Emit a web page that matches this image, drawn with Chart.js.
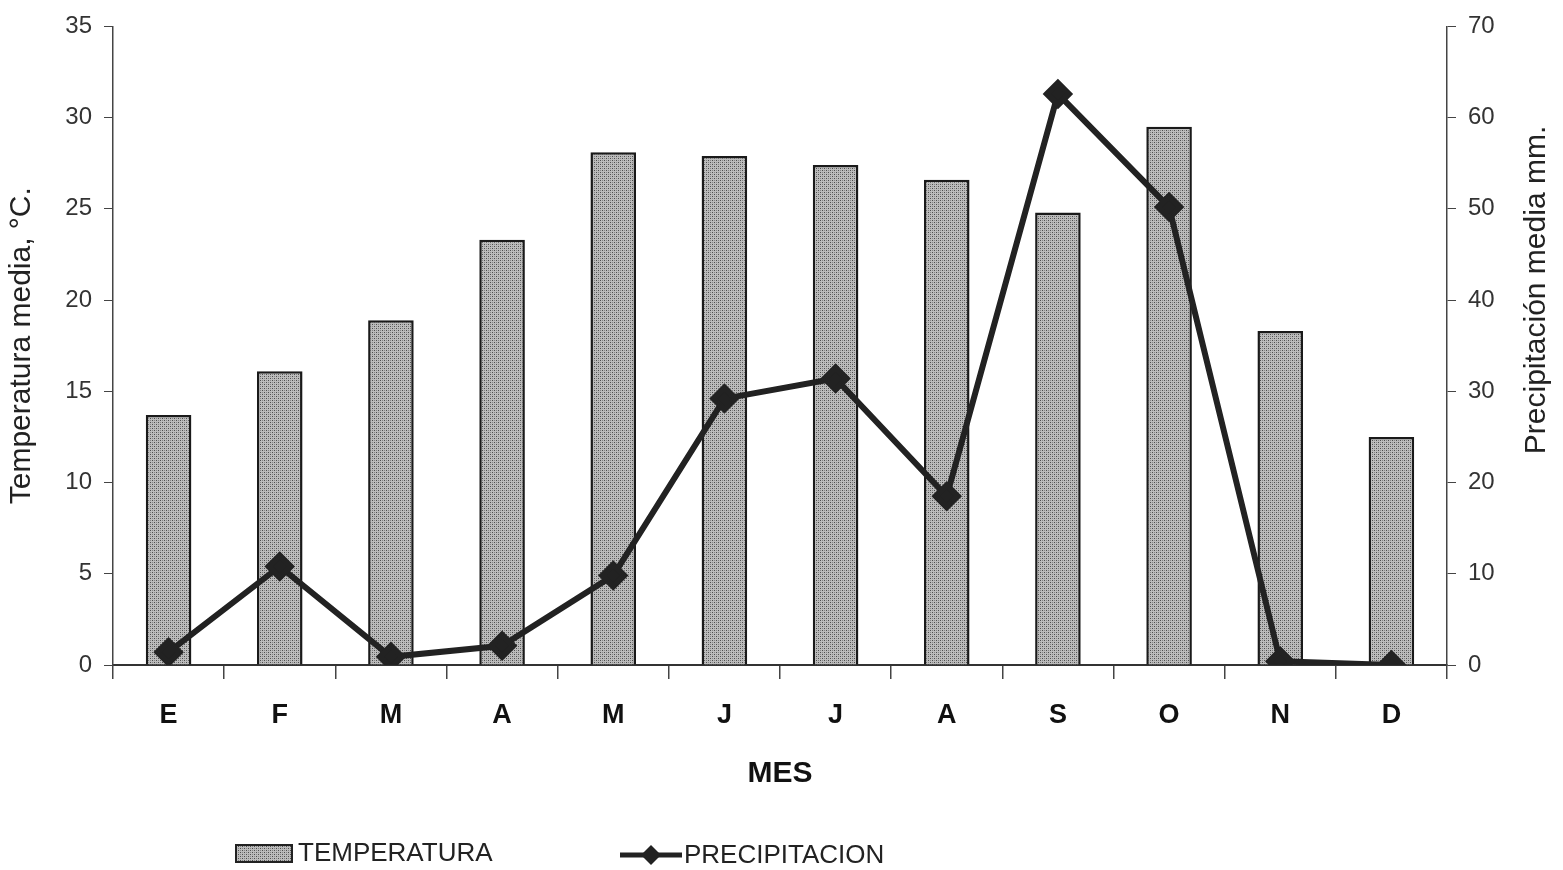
<!DOCTYPE html>
<html>
<head>
<meta charset="utf-8">
<script src="https://cdn.jsdelivr.net/npm/chart.js@4"></script>
<style>
  html, body { margin: 0; padding: 0; background: #fff; }
  #wrap { width: 1563px; height: 870px; }
</style>
</head>
<body>
<div id="wrap"><canvas id="myChart" width="1563" height="870"></canvas></div>
<script>
const months = ['E', 'F', 'M', 'A', 'M', 'J', 'J', 'A', 'S', 'O', 'N', 'D'];
const temperatura = [13.7, 16.1, 18.9, 23.3, 28.1, 27.9, 27.4, 26.6, 24.8, 29.5, 18.3, 12.5];
const precipitacion = [1.4, 10.8, 0.9, 2.1, 9.8, 29.2, 31.4, 18.5, 62.6, 50.2, 0.4, 0];

// dotted grey fill like the scanned bars
function barPattern(ctx) {
  const c = document.createElement('canvas');
  c.width = 4; c.height = 4;
  const p = c.getContext('2d');
  p.fillStyle = '#bcbcbc';
  p.fillRect(0, 0, 4, 4);
  p.fillStyle = '#4e4e4e';
  p.fillRect(0, 0, 1, 1);
  p.fillRect(2, 2, 1, 1);
  p.fillStyle = '#858585';
  p.fillRect(2, 0, 1, 1);
  p.fillRect(0, 2, 1, 1);
  return ctx.createPattern(c, 'repeat');
}

const ctx = document.getElementById('myChart').getContext('2d');
const fill = barPattern(ctx);
const FONT = 'Arial, "Liberation Sans"';

const extras = {
  id: 'extras',
  afterDraw(chart) {
    const c = chart.ctx;
    c.save();
    // right axis title, reading bottom to top
    c.translate(1537, 290);
    c.rotate(-Math.PI / 2);
    c.fillStyle = '#222';
    c.font = '30px ' + FONT;
    c.textAlign = 'center';
    c.textBaseline = 'middle';
    c.fillText('Precipitación media mm.', 0, 0);
    c.restore();

    c.save();
    // legend: bar swatch
    c.fillStyle = fill;
    c.fillRect(236, 845, 56, 17);
    c.strokeStyle = '#222';
    c.lineWidth = 2;
    c.strokeRect(236, 845, 56, 17);
    c.fillStyle = '#222';
    c.font = '26px ' + FONT;
    c.textBaseline = 'middle';
    c.fillText('TEMPERATURA', 298, 854);
    // legend: line swatch
    c.lineWidth = 5;
    c.beginPath();
    c.moveTo(620, 855);
    c.lineTo(682, 855);
    c.stroke();
    c.beginPath();
    c.moveTo(651, 845);
    c.lineTo(661, 855);
    c.lineTo(651, 865);
    c.lineTo(641, 855);
    c.closePath();
    c.fill();
    c.fillText('PRECIPITACION', 684, 856);
    c.restore();
  }
};

new Chart(ctx, {
  data: {
    labels: months,
    datasets: [{
      type: 'line',
      label: 'PRECIPITACION',
      data: precipitacion,
      yAxisID: 'y1',
      borderColor: '#222',
      backgroundColor: '#222',
      borderWidth: 6,
      pointStyle: 'rectRot',
      pointRadius: 11,
      pointBackgroundColor: '#222',
      pointBorderColor: '#222',
      tension: 0
    }, {
      type: 'bar',
      label: 'TEMPERATURA',
      data: temperatura,
      yAxisID: 'y',
      backgroundColor: fill,
      borderColor: '#1a1a1a',
      borderWidth: 2.5,
      categoryPercentage: 1,
      barPercentage: 0.41
    }]
  },
  options: {
    responsive: false,
    animation: false,
    layout: { padding: { top: 20, left: 0, right: 0, bottom: 78 } },
    plugins: {
      legend: { display: false },
      tooltip: { enabled: false }
    },
    scales: {
      x: {
        offset: true,
        grid: { display: true, drawOnChartArea: false, offset: true, tickLength: 14, color: '#444', lineWidth: 1.5 },
        border: { display: true, color: '#333', width: 2 },
        ticks: { color: '#111', padding: 20, font: { family: FONT, size: 27, weight: 'bold' } },
        title: { display: true, text: 'MES', color: '#111', padding: { top: 14, bottom: 0 }, font: { family: FONT, size: 30, weight: 'bold' } },
        afterFit(scale) { scale.height = 127; }
      },
      y: {
        position: 'left',
        min: 0, max: 35,
        ticks: { stepSize: 5, color: '#333', padding: 12, font: { family: FONT, size: 24 } },
        grid: { display: true, drawOnChartArea: false, tickLength: 9, color: '#444' },
        border: { display: true, color: '#444', width: 1.5 },
        title: { display: true, text: 'Temperatura media, °C.', color: '#222', font: { family: FONT, size: 30 } },
        afterFit(scale) { scale.width = 113; }
      },
      y1: {
        position: 'right',
        min: 0, max: 70,
        ticks: { stepSize: 10, color: '#333', padding: 12, font: { family: FONT, size: 24 } },
        grid: { display: true, drawOnChartArea: false, tickLength: 9, color: '#444' },
        border: { display: true, color: '#444', width: 1.5 },
        title: { display: false },
        afterFit(scale) { scale.width = 116; }
      }
    }
  },
  plugins: [extras]
});
</script>
</body>
</html>
